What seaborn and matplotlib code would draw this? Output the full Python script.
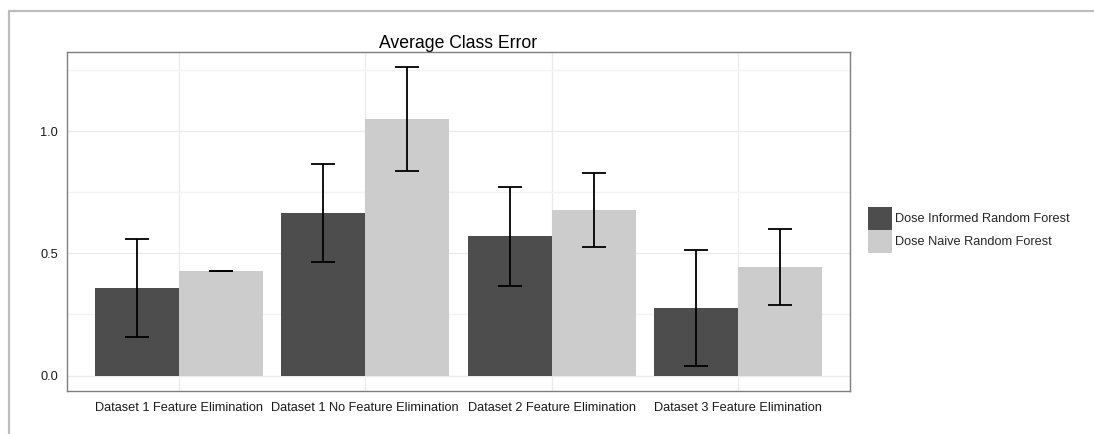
import numpy as np
import pandas as pd
import matplotlib
matplotlib.use("Agg")
import matplotlib.pyplot as plt
from matplotlib.lines import Line2D
from matplotlib.patches import Patch
from matplotlib.ticker import MultipleLocator
import seaborn as sns

# Average class error per dataset setup, with standard-error half widths
categories = [
    "Dataset 1 Feature Elimination",
    "Dataset 1 No Feature Elimination",
    "Dataset 2 Feature Elimination",
    "Dataset 3 Feature Elimination",
]
methods = ["Dose Informed Random Forest", "Dose Naive Random Forest"]
informed_mean = [0.358, 0.665, 0.570, 0.276]
informed_err = [0.201, 0.201, 0.202, 0.236]
naive_mean = [0.428, 1.049, 0.676, 0.444]
naive_err = [0.0, 0.211, 0.151, 0.156]
y_ticks = [0.0, 0.5, 1.0]
y_tick_labels = ["0.0", "0.5", "1.0"]

means = {methods[0]: informed_mean, methods[1]: naive_mean}
errs = {methods[0]: informed_err, methods[1]: naive_err}
colors = {methods[0]: "#4D4D4D", methods[1]: "#CCCCCC"}

df = pd.DataFrame(
    [(c, m, means[m][i]) for m in methods for i, c in enumerate(categories)],
    columns=["category", "method", "value"],
)

sns.set_style("white")
plt.rcParams["font.family"] = ["Liberation Sans", "DejaVu Sans"]

W, H = 1094, 434
fig = plt.figure(figsize=(W / 100, H / 100), dpi=100)
ax = fig.add_axes([67 / W, 1 - 391 / H, (850 - 67) / W, (391 - 52) / H])

sns.barplot(
    data=df, x="category", y="value", hue="method",
    order=categories, hue_order=methods, palette=colors,
    width=0.9, saturation=1, errorbar=None, legend=False, ax=ax,
    linewidth=0, edgecolor="none",
)

# Error bars centred on each bar, taken from the bar geometry
for container, m in zip(ax.containers, methods):
    xs = [b.get_x() + b.get_width() / 2 for b in container]
    ax.errorbar(xs, means[m], yerr=errs[m], fmt="none", ecolor="black",
                elinewidth=1.3, capsize=8.3, capthick=1.3, zorder=5)

# ggplot-like axis ranges
tops = [mv + e for m in methods for mv, e in zip(means[m], errs[m])]
lo, hi = 0.0, max(tops)
pad = 0.05 * (hi - lo)
ax.set_ylim(lo - pad, hi + pad)
ax.set_xlim(-0.6, len(categories) - 0.4)

ax.set_yticks(y_ticks)
ax.set_yticklabels(y_tick_labels)
ax.yaxis.set_minor_locator(MultipleLocator(0.25))
ax.set_axisbelow(True)
ax.grid(which="major", axis="both", color="#EBEBEB", lw=1.0)
ax.grid(which="minor", axis="y", color="#F4F4F4", lw=1.0)
ax.tick_params(which="minor", length=0)
ax.tick_params(which="major", length=4, width=1, color="#333333",
               labelsize=9.2, labelcolor="#1A1A1A", pad=2.5)
ax.tick_params(axis="x", pad=4)
ax.set_xlabel("")
ax.set_ylabel("")
for s in ax.spines.values():
    s.set_color("#7F7F7F")
    s.set_linewidth(1.0)

ax.set_title("Average Class Error", fontsize=12.7, color="black", pad=3)

handles = [Patch(facecolor=colors[m], edgecolor="none", label=m) for m in methods]
fig.legend(handles=handles, loc="center left",
           bbox_to_anchor=(868 / W, 1 - 230 / H), frameon=False,
           fontsize=9.2, handlelength=1.85, handleheight=2.39,
           handletextpad=0.3, labelspacing=0.0, borderpad=0, borderaxespad=0)

# Light frame around the figure (top and left edges)
fig.add_artist(Line2D([9 / W, 9 / W], [0, 1 - 11 / H], transform=fig.transFigure,
                      color="#BDBDBD", lw=1.6))
fig.add_artist(Line2D([9 / W, 1], [1 - 11 / H, 1 - 11 / H], transform=fig.transFigure,
                      color="#BDBDBD", lw=1.6))

fig.savefig("out.png", dpi=100)
